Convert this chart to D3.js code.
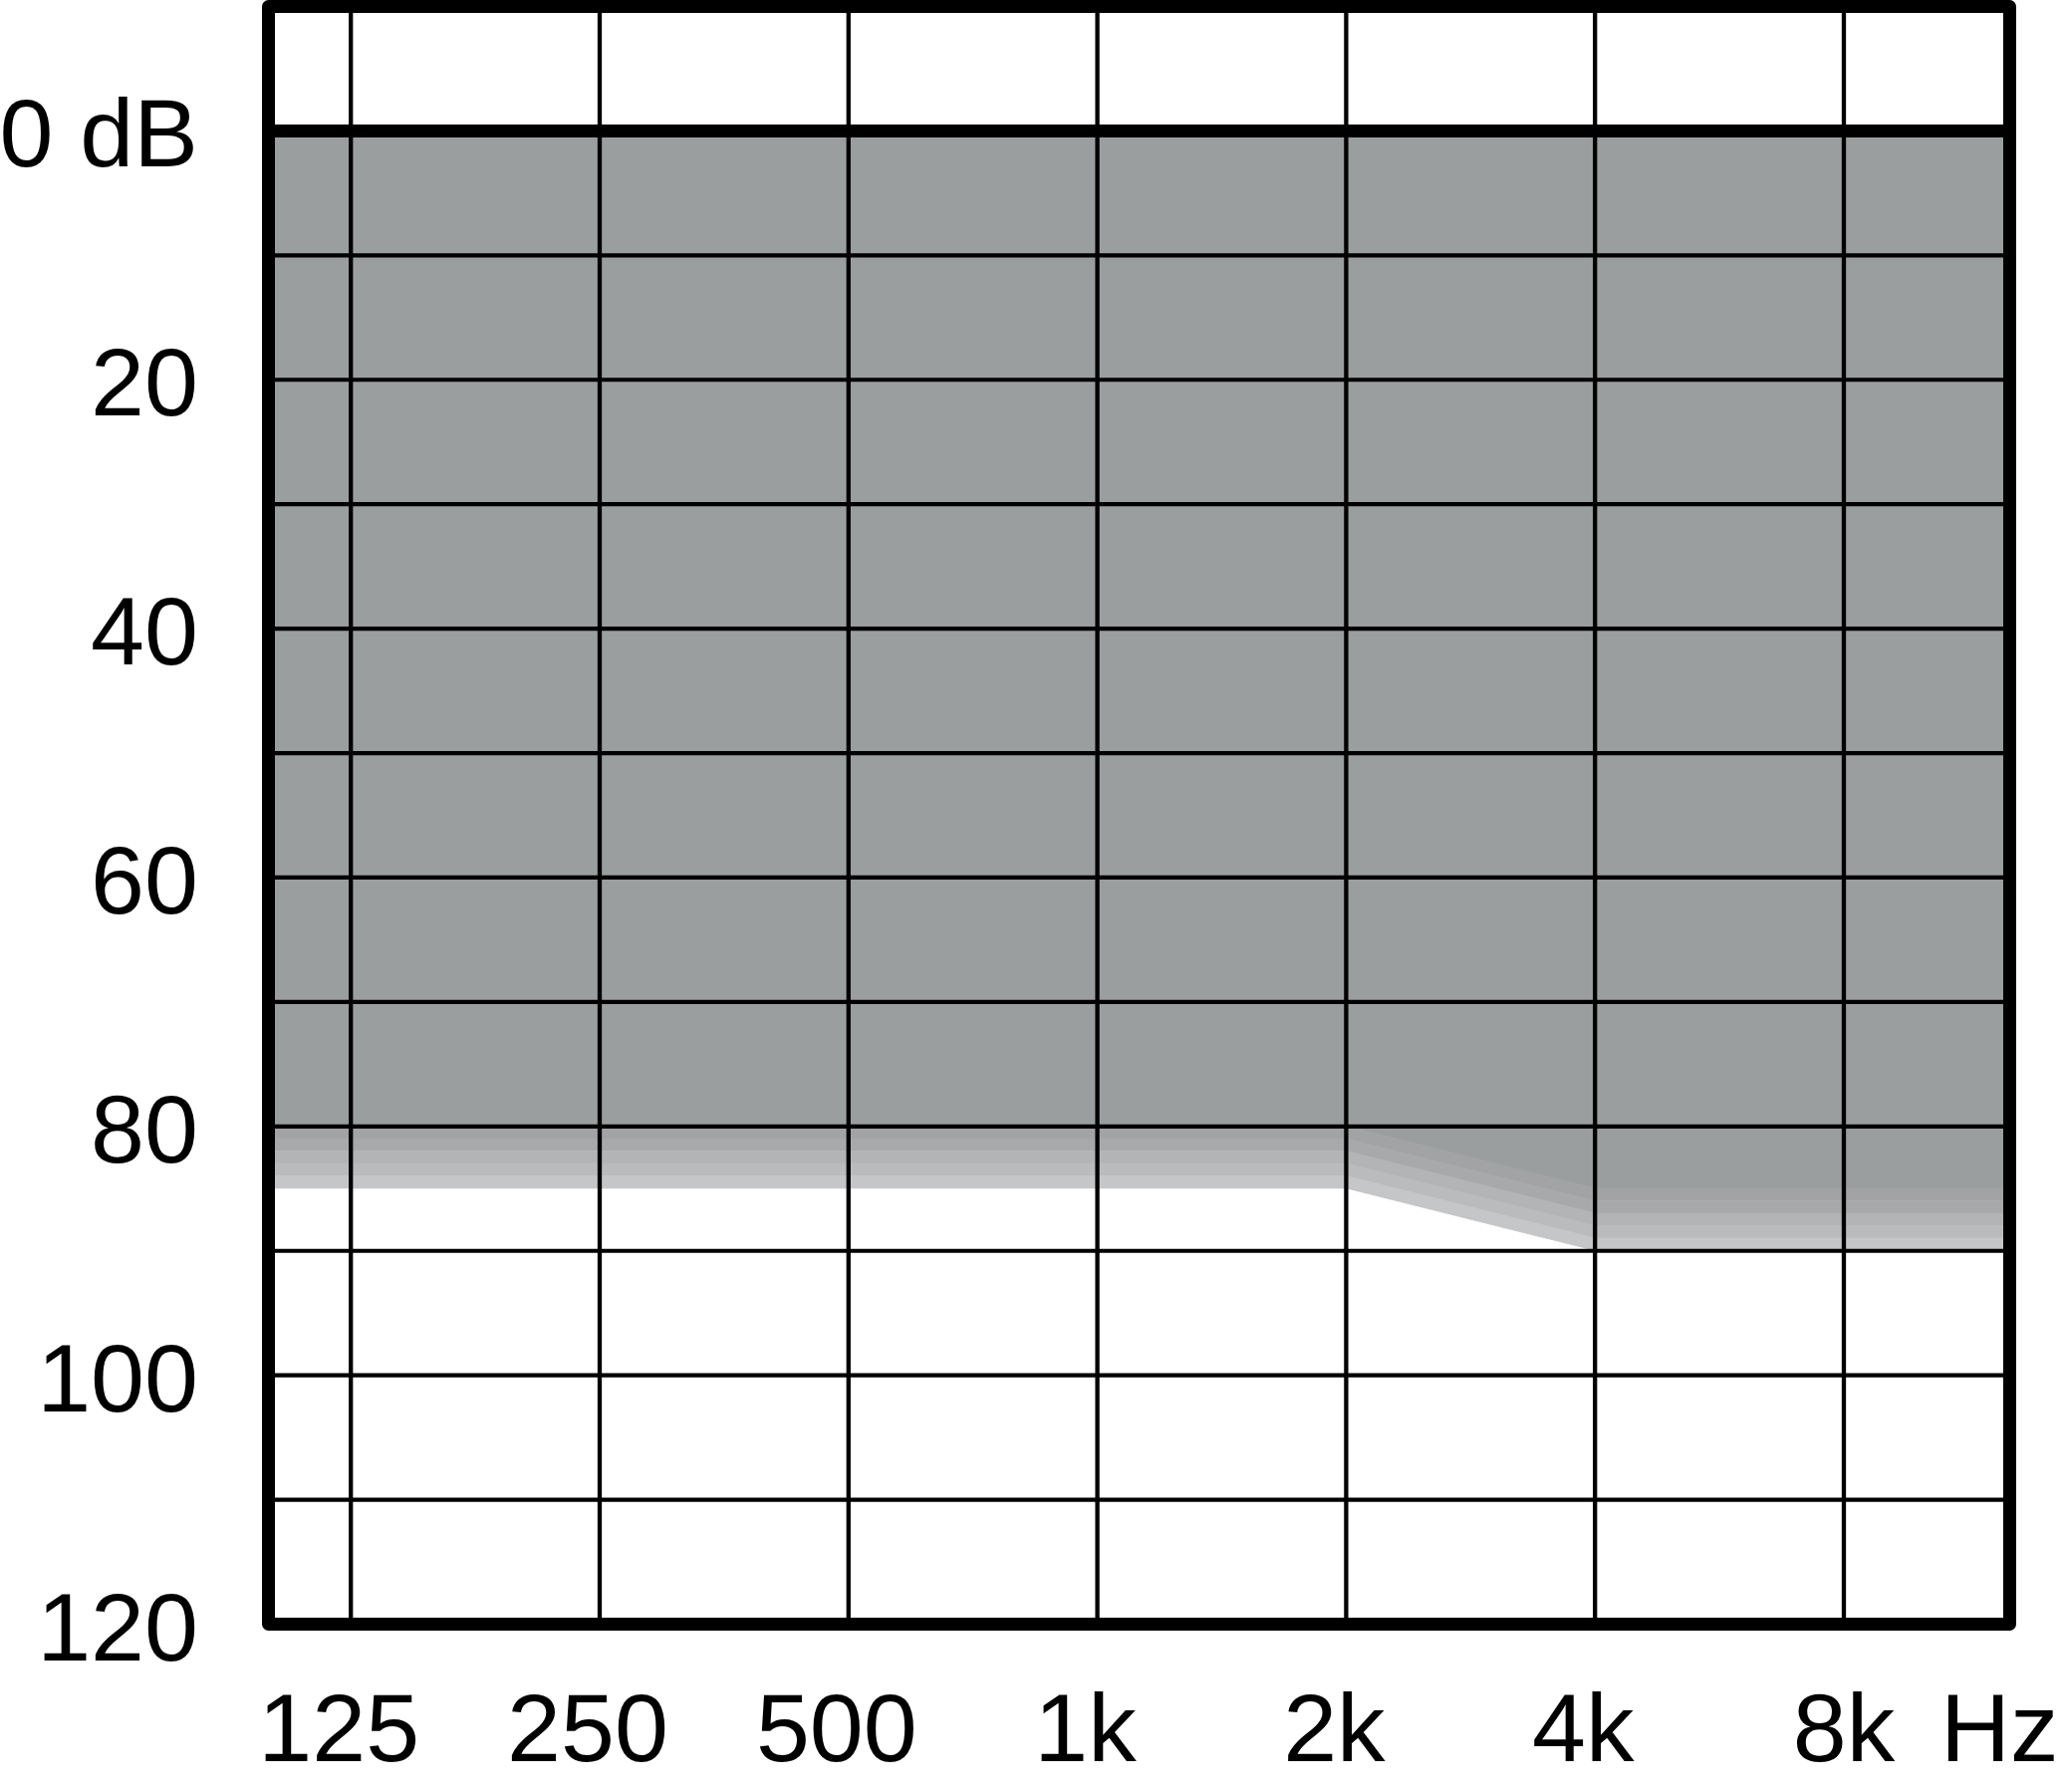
<!DOCTYPE html>
<html lang="en">
<head>
    <meta charset="UTF-8">
    <title>Audiogram</title>
    <script src="https://d3js.org/d3.v7.min.js"></script>
    <style>
        body { margin: 0; background: #fff; }
        text { font-family: "Liberation Sans", Arial, sans-serif; fill: #000; }
    </style>
</head>
<body>
<svg id="main" width="2069" height="1799"></svg>
<script>
    // frequencies on the grid (Hz) and their labels
    let freqs = [125, 250, 500, 1000, 2000, 4000, 8000];
    let freqLabels = ['125', '250', '500', '1k', '2k', '4k', '8k'];
    // hearing level grid (dB)
    let dbLines = [0, 10, 20, 30, 40, 50, 60, 70, 80, 90, 100, 110, 120];
    let dbLabels = ['0 dB', '20', '40', '60', '80', '100', '120'];
    let dbLabelValues = [0, 20, 40, 60, 80, 100, 120];
    // lower edge of the shaded area
    let edgeFreqs = [125, 2000, 4000, 8000];
    let edgeDb = [80, 80, 85, 85];
    // fade below the edge, 1 dB per step
    let fadeColors = ['#a1a3a4', '#a8a9ab', '#b3b4b5', '#babbbc', '#c5c6c7'];

    let svg = d3.select('svg');
    let frame = {left: 269.5, right: 2017.5, top: 6.5, bottom: 1630.5};

    let x = d3.scaleLog().base(2).domain([125, 8000]).range([352.2, 1851]);
    let y = d3.scaleLinear().domain([-10, 120]).range([frame.top, frame.bottom]);

    // extend the edge out to the frame on both sides
    let fLeft = x.invert(frame.left + 6), fRight = x.invert(frame.right - 6);
    let edge = edgeFreqs.map((f, i) => ({f: f, db: edgeDb[i]}));
    edge.unshift({f: fLeft, db: edgeDb[0]});
    edge.push({f: fRight, db: edgeDb[edgeDb.length - 1]});

    let band = (a, b) => d3.area()
        .x(d => x(d.f))
        .y0(d => y(a(d)))
        .y1(d => y(b(d)));

    svg.append('path')
        .attr('d', band(d => 0, d => d.db)(edge))
        .style('fill', '#9b9e9f');

    fadeColors.forEach(function (c, i) {
        svg.append('path')
            .attr('d', band(d => d.db + i - 0.05, d => d.db + i + 1)(edge))
            .style('fill', c);
    });

    // grid
    svg.selectAll('.hgrid')
        .data(dbLines.filter(d => d > 0 && d < 120))
        .enter()
        .append('line')
        .attr('class', 'hgrid')
        .attr('x1', frame.left).attr('x2', frame.right)
        .attr('y1', d => y(d)).attr('y2', d => y(d))
        .style('stroke', '#000').style('stroke-width', 4.2);

    svg.selectAll('.vgrid')
        .data(freqs)
        .enter()
        .append('line')
        .attr('class', 'vgrid')
        .attr('x1', d => x(d)).attr('x2', d => x(d))
        .attr('y1', frame.top).attr('y2', frame.bottom)
        .style('stroke', '#000').style('stroke-width', 4.3);

    // 0 dB reference line
    svg.append('line')
        .attr('x1', frame.left).attr('x2', frame.right)
        .attr('y1', y(0)).attr('y2', y(0))
        .style('stroke', '#000').style('stroke-width', 13);

    svg.append('rect')
        .attr('x', frame.left).attr('y', frame.top)
        .attr('width', frame.right - frame.left)
        .attr('height', frame.bottom - frame.top)
        .style('fill', 'none').style('stroke', '#000')
        .style('stroke-width', 13).style('stroke-linejoin', 'round');

    // labels
    svg.selectAll('.ylab')
        .data(dbLabels)
        .enter()
        .append('text')
        .attr('class', 'ylab')
        .attr('x', 199)
        .attr('y', (d, i) => y(dbLabelValues[i]) + 36)
        .attr('text-anchor', 'end')
        .style('font-size', '97px')
        .text(d => d);

    svg.selectAll('.xlab')
        .data(freqLabels)
        .enter()
        .append('text')
        .attr('class', 'xlab')
        .attr('x', (d, i) => x(freqs[i]) + (i < freqs.length - 1 ? -12 : 0))
        .attr('y', 1768)
        .attr('text-anchor', 'middle')
        .style('font-size', '97px')
        .text(d => d);

    svg.append('text')
        .attr('x', x(8000) + 97)
        .attr('y', 1768)
        .style('font-size', '97px')
        .text('Hz');
</script>
</body>
</html>
